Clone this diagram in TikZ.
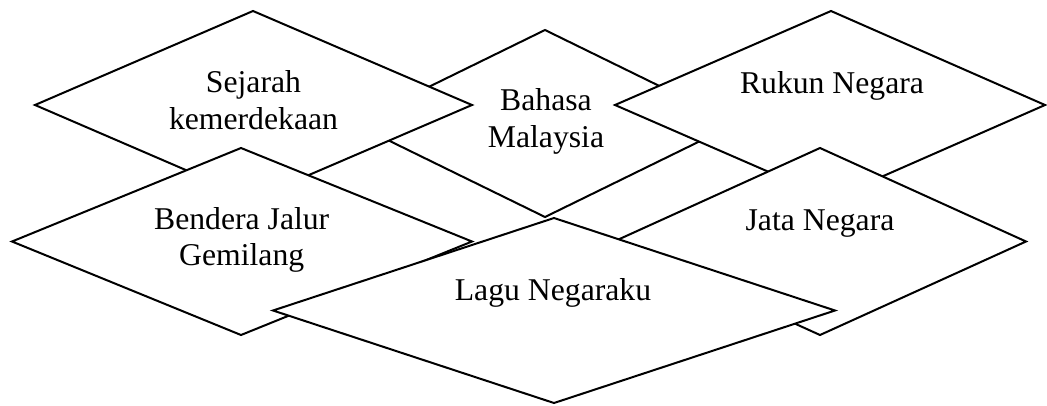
\documentclass[tikz,border=0pt]{standalone}
\usepackage{fontspec}
\setmainfont{Liberation Serif}
\begin{document}
\begin{tikzpicture}[x=1pt,y=-1pt,
  dia/.style={draw=black,fill=white,line width=2pt,line join=miter},
  lbl/.style={anchor=base,inner sep=0pt,font=\fontsize{31.7}{36.5}\selectfont}]
\useasboundingbox (0,0) rectangle (1047,405);
% Bahasa Malaysia (behind)
\path[dia] (545,30) -- (736,123.5) -- (545,217) -- (354,123.5) -- cycle;
\node[lbl] (bahasa) at (546,110) {Bahasa};
\node[lbl] (malaysia) at (546,147) {Malaysia};
% Sejarah kemerdekaan
\path[dia] (253,11) -- (472,105) -- (253,199) -- (35,105) -- cycle;
\node[lbl] (sejarah) at (253.5,92.7) {Sejarah};
\node[lbl] (kemerdekaan) at (253.5,129.2) {kemerdekaan};
% Rukun Negara
\path[dia] (831,11) -- (1045,105) -- (831,199) -- (615,105) -- cycle;
\node[lbl] (rukun) at (832,93) {Rukun Negara};
% Bendera Jalur Gemilang
\path[dia] (241,148) -- (472,241.5) -- (241,335) -- (12,241.5) -- cycle;
\node[lbl] (bendera) at (241.7,229) {Bendera Jalur};
\node[lbl] (gemilang) at (241.7,265.5) {Gemilang};
% Jata Negara
\path[dia] (820,148) -- (1026,241.5) -- (820,335) -- (614,241.5) -- cycle;
\node[lbl] (jata) at (820,230) {Jata Negara};
% Lagu Negaraku
\path[dia] (554,218) -- (835,310.5) -- (554,403) -- (273,310.5) -- cycle;
\node[lbl] (lagu) at (553,300) {Lagu Negaraku};
\end{tikzpicture}
\end{document}
